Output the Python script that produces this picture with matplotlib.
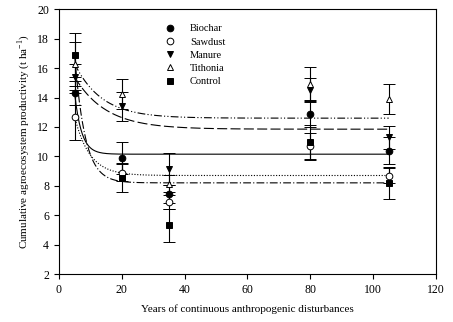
import matplotlib
matplotlib.use("Agg")
import matplotlib.pyplot as plt
import numpy as np

plt.rcParams["font.family"] = ["Liberation Serif", "DejaVu Serif"]
plt.rcParams["mathtext.fontset"] = "custom"
plt.rcParams["mathtext.rm"] = "Liberation Serif"

years = [5, 20, 35, 80, 105]

treatments = ["Biochar", "Sawdust", "Manure", "Tithonia", "Control"]

biochar = [14.3, 9.9, 7.45, 12.9, 10.4]
sawdust = [12.7, 8.9, 6.9, 10.7, 8.7]
manure = [15.4, 13.4, 9.15, 14.5, 11.3]
tithonia = [16.3, 14.25, 8.15, 14.95, 13.9]
control = [16.9, 8.55, 5.3, 10.95, 8.2]

biochar_err = [0.8, 1.1, 0.6, 0.9, 0.9]
sawdust_err = [1.6, 0.6, 0.5, 0.9, 0.5]
manure_err = [0.9, 1.0, 1.1, 0.8, 0.8]
tithonia_err = [1.5, 1.0, 0.6, 1.1, 1.05]
control_err = [1.5, 1.0, 1.15, 1.2, 1.1]

# exponential decay fits: y = plateau + span * exp(-rate * (x - 5))
fit_plateau = [10.15, 8.7, 11.85, 12.6, 8.2]
fit_span = [4.15, 4.0, 3.55, 3.7, 8.7]
fit_rate = [0.45, 0.21, 0.10, 0.116, 0.30]

means = [biochar, sawdust, manure, tithonia, control]
errs = [biochar_err, sawdust_err, manure_err, tithonia_err, control_err]

markers = ["o", "o", "v", "^", "s"]
faces = ["black", "white", "black", "white", "black"]
line_dashes = [None, (1, 1.5), (9, 3), (7, 2, 1, 2, 1, 2), (7, 2, 1, 2)]

fig = plt.figure(figsize=(4.53, 3.22), dpi=100)
ax = fig.add_axes([0.130, 0.149, 0.832, 0.822])

xfit = np.linspace(5, 105, 400)
for i in range(5):
    yfit = fit_plateau[i] + fit_span[i] * np.exp(-fit_rate[i] * (xfit - 5))
    line, = ax.plot(xfit, yfit, color="black", lw=0.8)
    if line_dashes[i] is not None:
        line.set_dashes(line_dashes[i])

handles = []
for i in range(5):
    h = ax.errorbar(years, means[i], yerr=errs[i], fmt=markers[i], color="black",
                    mfc=faces[i], mec="black", ms=4.8, mew=0.7,
                    ecolor="black", elinewidth=0.8, capsize=4, capthick=0.8,
                    zorder=3)
    handles.append(h[0])

ax.legend(handles, treatments, loc="upper left", bbox_to_anchor=(0.27, 0.96),
          frameon=False, fontsize=7.5, handlelength=1.0, handletextpad=1.4,
          labelspacing=0.38, borderaxespad=0)

ax.set_xlim(0, 120)
ax.set_ylim(2, 20)
ax.set_xticks(range(0, 121, 20))
ax.set_yticks(range(2, 21, 2))
ax.tick_params(direction="out", length=3.5, width=0.8, labelsize=8.5,
               top=False, right=False)
for s in ax.spines.values():
    s.set_linewidth(0.8)

ax.set_xlabel("Years of continuous anthropogenic disturbances", fontsize=8, labelpad=6)
ax.set_ylabel("Cumulative agroecosystem productivity (t ha$^{\\mathregular{-1}}$)",
              fontsize=8, labelpad=4)

fig.savefig("out.png", dpi=100)
